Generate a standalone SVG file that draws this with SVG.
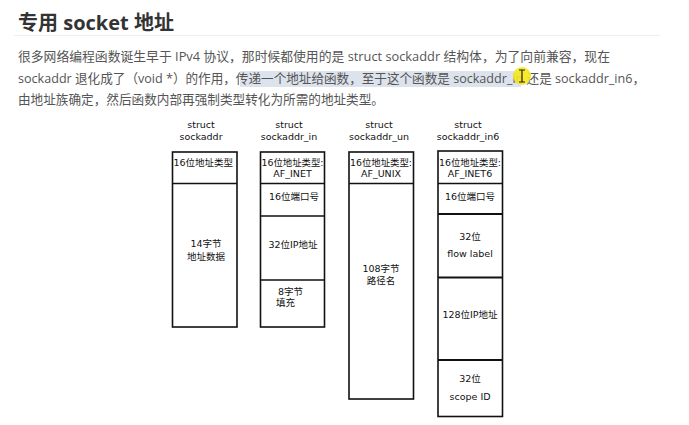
<svg xmlns="http://www.w3.org/2000/svg" width="689" height="425" viewBox="0 0 689 425">
<style>
.title{font-family:"Open Sans","Noto Sans CJK SC",sans-serif;font-weight:bold;font-size:20px;fill:#333}
.para{font-family:"Open Sans","Noto Sans CJK SC",sans-serif;font-size:13px;fill:#555}
.lbl{font-family:"DejaVu Sans","Noto Sans CJK SC",sans-serif;font-size:9.5px;fill:#111;text-anchor:middle}
.bx{font-family:"DejaVu Sans","Noto Sans CJK SC",sans-serif;font-size:9.5px;fill:#111}
.c{text-anchor:middle}
.box{fill:#fff;stroke:#111;stroke-width:1.6}
.div{stroke:#111;stroke-width:1.6}
.div2{stroke:#111;stroke-width:2.2}
</style>
<rect width="689" height="425" fill="#fff"/>
<text class="title" x="18" y="30">专用 socket 地址</text>
<line x1="14" y1="35.5" x2="660" y2="35.5" stroke="#eee" stroke-width="1"/>
<rect x="240" y="71" width="281" height="16" fill="#dde3ec"/>
<text class="para" x="18" y="61" textLength="592" lengthAdjust="spacingAndGlyphs">很多网络编程函数诞生早于 IPv4 协议，那时候都使用的是 struct sockaddr 结构体，为了向前兼容，现在</text>
<text class="para" x="18" y="83" textLength="627" lengthAdjust="spacingAndGlyphs">sockaddr 退化成了（void *）的作用，传递一个地址给函数，至于这个函数是 sockaddr_in 还是 sockaddr_in6，</text>
<text class="para" x="18" y="104" textLength="366" lengthAdjust="spacingAndGlyphs">由地址族确定，然后函数内部再强制类型转化为所需的地址类型。</text>
<g id="cursor">
<circle cx="522" cy="76" r="9" fill="#f5e81c" opacity="0.9"/>
<path d="M519 70h6M522 70v12M519 82h6" stroke="#222" stroke-width="1.2" fill="none"/>
</g>
<g id="sockaddr">
<text class="lbl" x="201" y="128">struct</text>
<text class="lbl" x="201" y="140">sockaddr</text>
<rect class="box" x="172.5" y="152" width="64.5" height="175"/>
<line class="div" x1="172.5" y1="183.5" x2="237" y2="183.5"/>
<text class="bx" x="173.5" y="166">16位地址类型</text>
<text class="bx c" x="206" y="247">14字节</text>
<text class="bx c" x="206" y="260">地址数据</text>
</g>
<g id="sockaddr_in">
<text class="lbl" x="289" y="128">struct</text>
<text class="lbl" x="289" y="140">sockaddr_in</text>
<rect class="box" x="260.5" y="152" width="64" height="175"/>
<line class="div" x1="260.5" y1="183.5" x2="324.5" y2="183.5"/>
<line class="div" x1="260.5" y1="216" x2="324.5" y2="216"/>
<line class="div" x1="260.5" y1="280" x2="324.5" y2="280"/>
<text class="bx" x="261.5" y="166" textLength="62" lengthAdjust="spacingAndGlyphs">16位地址类型:</text>
<text class="bx c" x="292.5" y="177">AF_INET</text>
<text class="bx c" x="294" y="200">16位端口号</text>
<text class="bx c" x="293" y="248">32位IP地址</text>
<text class="bx" x="278" y="295">8字节</text>
<text class="bx" x="276" y="306">填充</text>
</g>
<g id="sockaddr_un">
<text class="lbl" x="379" y="128">struct</text>
<text class="lbl" x="379" y="140">sockaddr_un</text>
<rect class="box" x="349" y="152" width="64.5" height="247"/>
<line class="div" x1="349" y1="183.5" x2="413.5" y2="183.5"/>
<text class="bx" x="350" y="166" textLength="62" lengthAdjust="spacingAndGlyphs">16位地址类型:</text>
<text class="bx c" x="381" y="177">AF_UNIX</text>
<text class="bx c" x="381" y="272">108字节</text>
<text class="bx c" x="381" y="284">路径名</text>
</g>
<g id="sockaddr_in6">
<text class="lbl" x="468" y="128">struct</text>
<text class="lbl" x="468" y="140">sockaddr_in6</text>
<rect class="box" x="438" y="151" width="64.5" height="265.5"/>
<line class="div" x1="438" y1="183.5" x2="502.5" y2="183.5"/>
<line class="div2" x1="438" y1="214" x2="502.5" y2="214"/>
<line class="div2" x1="438" y1="277.5" x2="502.5" y2="277.5"/>
<line class="div2" x1="438" y1="360" x2="502.5" y2="360"/>
<text class="bx" x="439" y="166" textLength="62" lengthAdjust="spacingAndGlyphs">16位地址类型:</text>
<text class="bx c" x="470" y="177">AF_INET6</text>
<text class="bx c" x="470" y="200">16位端口号</text>
<text class="bx c" x="470" y="240">32位</text>
<text class="bx c" x="470" y="257">flow label</text>
<text class="bx c" x="470" y="318">128位IP地址</text>
<text class="bx c" x="470" y="382">32位</text>
<text class="bx c" x="470" y="400">scope ID</text>
</g>
<g id="connectors"></g>
</svg>
